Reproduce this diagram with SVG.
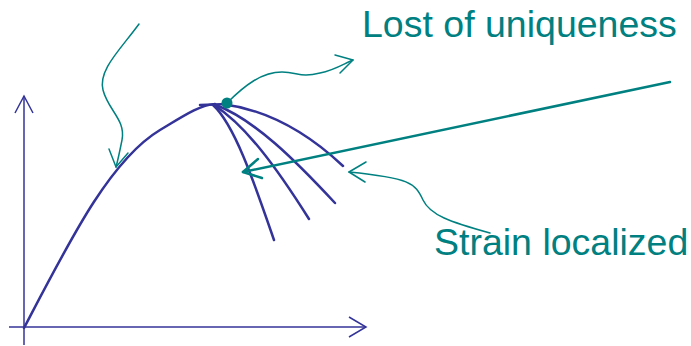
<svg xmlns="http://www.w3.org/2000/svg" width="691" height="346" viewBox="0 0 691 346">
  <style>
    .axis { fill: none; stroke: #333399; stroke-width: 1.5; }
    .curve { fill: none; stroke: #333399; stroke-width: 2.5; stroke-linecap: round; }
    .note { fill: none; stroke: #008080; stroke-width: 1.5; stroke-linecap: round; stroke-linejoin: round; }
    .pointer { fill: none; stroke: #008080; stroke-width: 2.5; stroke-linecap: round; stroke-linejoin: round; }
    .label { font-family: "Liberation Sans", Arial, sans-serif; font-size: 37.5px; fill: #008080; }
  </style>

  <!-- axes -->
  <g id="axes">
    <line class="axis" x1="24" y1="345" x2="24" y2="96"/>
    <polyline class="axis" points="15,113 24,96 33,113"/>
    <line class="axis" x1="9" y1="327" x2="366" y2="327"/>
    <polyline class="axis" points="349,317 366,327 349,337"/>
  </g>

  <!-- load-displacement curve with post-peak branches -->
  <g id="curve">
    <path class="curve" d="M24,328 C70,240 110,160 160,130 C185,115 200,105 215,104"/>
    <line class="curve" x1="200" y1="105" x2="228" y2="104" stroke-width="2"/>
    <path class="curve" d="M213,105 C235,125 255,185 274,240"/>
    <path class="curve" d="M214,105 C245,125 275,165 309,219"/>
    <path class="curve" d="M216,105 C255,120 295,160 335,203"/>
    <path class="curve" d="M222,104 C270,110 310,135 343,166"/>
  </g>

  <!-- bifurcation point -->
  <g id="peak">
    <circle cx="227" cy="103" r="5.5" fill="#008080"/>
  </g>

  <!-- annotation connectors -->
  <g id="connectors">
    <path class="note" d="M139,24 C120,50 98,70 103,90 C108,110 126,120 122,140 C120,150 118,160 116,167"/>
    <polyline class="note" points="109,149 116,167 128,153"/>

    <path class="note" d="M227,103 C245,85 262,72 282,72 C298,72 300,78 320,73 C335,70 345,63 353,60"/>
    <polyline class="note" points="335,55 353,60 340,73"/>

    <line class="pointer" x1="670" y1="82" x2="243" y2="172"/>
    <polyline class="pointer" points="258,159 243,172 262,178"/>

    <path class="note" d="M490,233 C450,222 430,215 423,200 C415,183 410,178 349,172"/>
    <polyline class="note" points="366,162 349,172 365,182"/>
  </g>

  <!-- labels -->
  <g id="label-uniqueness">
    <text class="label" x="362" y="37">Lost of uniqueness</text>
  </g>
  <g id="label-localized">
    <text class="label" x="434" y="255">Strain localized</text>
  </g>
</svg>
